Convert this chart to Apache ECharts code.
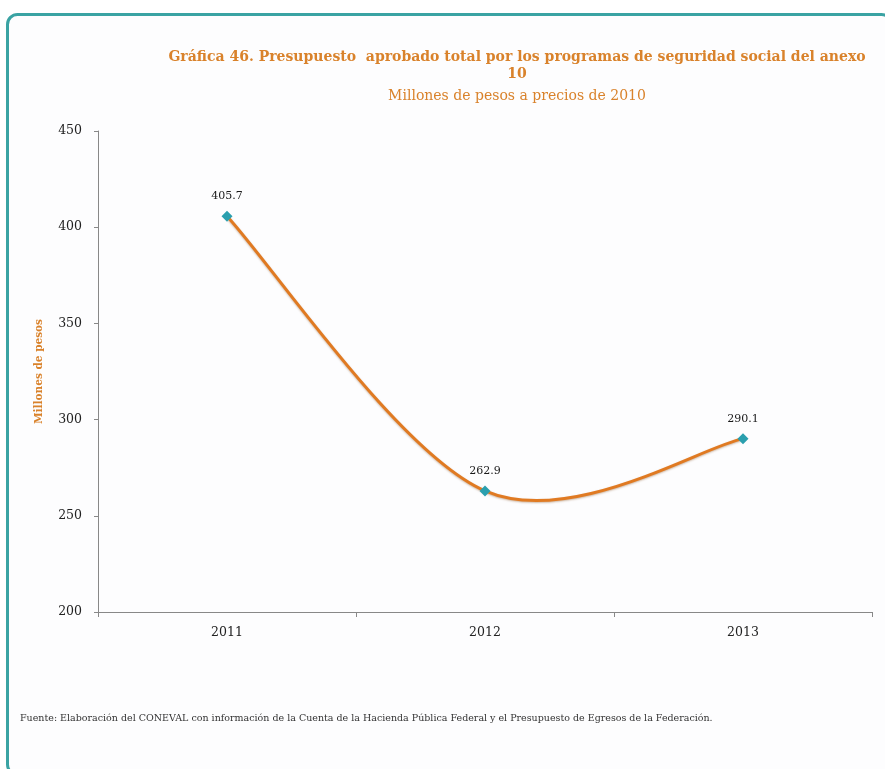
<!DOCTYPE html>
<html>
<head>
<meta charset="utf-8">
<script src="https://cdn.jsdelivr.net/npm/echarts@6/dist/echarts.min.js"></script>
<style>
html,body{margin:0;padding:0;background:#fff;}
#c{width:885px;height:769px;}
</style>
</head>
<body>
<div id="c"></div>
<script>
var categories = ['2011', '2012', '2013'];
var values = [405.7, 262.9, 290.1];
var yTicks = [200, 250, 300, 350, 400, 450];
var titleLine1 = 'Gráfica 46. Presupuesto  aprobado total por los programas de seguridad social del anexo';
var titleLine2 = '10';
var subtitle = 'Millones de pesos a precios de 2010';
var yName = 'Millones de pesos';
var source = 'Fuente: Elaboración del CONEVAL con información de la Cuenta de la Hacienda Pública Federal y el Presupuesto de Egresos de la Federación.';

var chart = echarts.init(document.getElementById('c'), null, {renderer: 'canvas'});
var orange = '#d9822b';
var lineColor = '#e07a22';
var serif = '"DejaVu Serif", "Liberation Serif", serif';
var pairs = values.map(function (v, i) { return [i, v]; });

function renderSegment(params, api) {
  var i = params.dataIndex;
  var n = values.length;
  if (i >= n - 1) return null;
  var pts = values.map(function (v, k) { return api.coord([k, v]); });
  var p0 = pts[Math.max(i - 1, 0)], p1 = pts[i], p2 = pts[i + 1], p3 = pts[Math.min(i + 2, n - 1)];
  var k = 1 / 6;
  return {
    type: 'bezierCurve',
    shape: {
      x1: p1[0], y1: p1[1], x2: p2[0], y2: p2[1],
      cpx1: p1[0] + (p2[0] - p0[0]) * k, cpy1: p1[1] + (p2[1] - p0[1]) * k,
      cpx2: p2[0] - (p3[0] - p1[0]) * k, cpy2: p2[1] - (p3[1] - p1[1]) * k
    },
    style: {stroke: lineColor, lineWidth: 3, fill: null, lineCap: 'round',
      shadowColor: 'rgba(120,60,0,0.35)', shadowBlur: 2, shadowOffsetY: 1}
  };
}

chart.setOption({
  animation: false,
  backgroundColor: '#fff',
  graphic: [
    {type: 'rect', left: 6, top: 13, shape: {width: 884, height: 760, r: 10},
     style: {fill: '#fdfdfe', stroke: '#3aa3a3', lineWidth: 3}, z: -10},
    {type: 'text', left: 20, top: 714, style: {text: source, fill: '#333', font: '9.5px ' + serif}}
  ],
  title: [
    {text: titleLine1 + '\n' + titleLine2, left: 512, top: 44, textAlign: 'center',
     textStyle: {color: orange, fontFamily: serif, fontWeight: 'bold', fontSize: 14, lineHeight: 17}},
    {text: subtitle, left: 512, top: 84, textAlign: 'center',
     textStyle: {color: orange, fontFamily: serif, fontWeight: 'normal', fontSize: 14}}
  ],
  grid: {left: 98, right: 13, top: 131, bottom: 157, containLabel: false},
  xAxis: {
    type: 'category', data: categories, boundaryGap: true,
    axisLine: {lineStyle: {color: '#888', width: 1}},
    axisTick: {show: true, lineStyle: {color: '#888'}, length: 5},
    axisLabel: {color: '#222', fontFamily: serif, fontSize: 12.5, margin: 14}
  },
  yAxis: {
    type: 'value', min: yTicks[0], max: yTicks[yTicks.length - 1], interval: 50,
    name: yName, nameLocation: 'middle', nameGap: 53, nameRotate: 90,
    nameTextStyle: {color: orange, fontFamily: serif, fontWeight: 'bold', fontSize: 10.5},
    axisLine: {show: true, lineStyle: {color: '#888', width: 1}},
    axisTick: {show: true, lineStyle: {color: '#888'}, length: 4},
    splitLine: {show: false},
    axisLabel: {color: '#222', fontFamily: serif, fontSize: 12.5, margin: 16}
  },
  series: [
    {
      type: 'custom', data: pairs, encode: {x: 0, y: 1},
      renderItem: renderSegment, z: 2, silent: true
    },
    {
      type: 'scatter', data: pairs, encode: {x: 0, y: 1}, z: 3,
      symbol: 'diamond', symbolSize: 11,
      itemStyle: {color: '#2a9fae', opacity: 1},
      label: {show: true, position: 'top', distance: 9, color: '#1a1a1a', fontFamily: serif, fontSize: 11,
        formatter: function (p) { return p.value[1].toFixed(1); }}
    }
  ]
});
</script>
</body>
</html>
